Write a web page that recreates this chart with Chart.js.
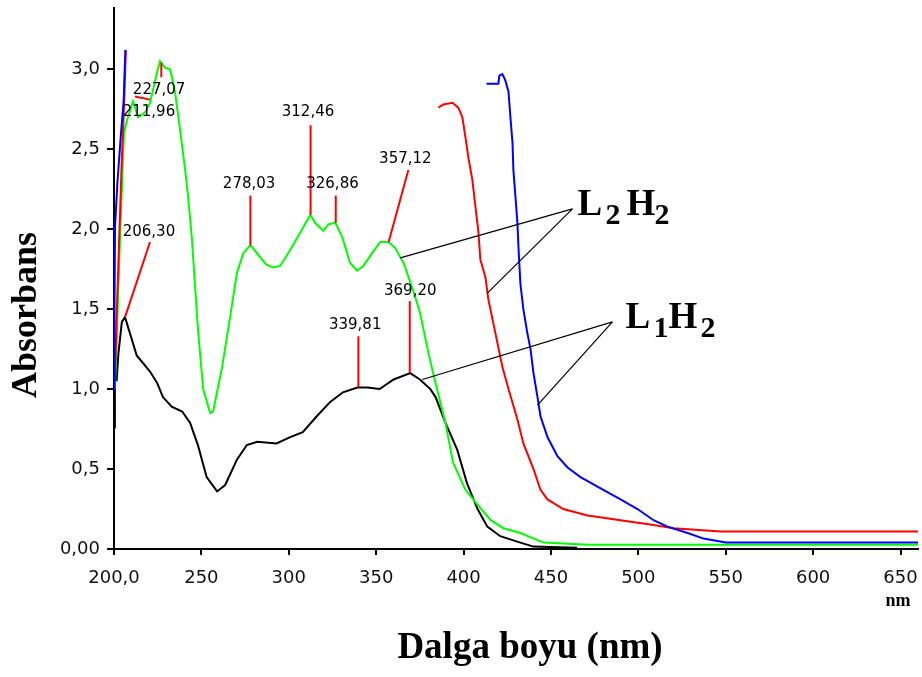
<!DOCTYPE html>
<html>
<head>
<meta charset="utf-8">
<script src="https://cdn.jsdelivr.net/npm/chart.js@4.4.0/dist/chart.umd.min.js"></script>
<style>
  body { margin: 0; background: #fff; }
</style>
</head>
<body>
<canvas id="spectra" width="922" height="677"></canvas>
<script>
// ---- data (nm / absorbance) ----
const blackWl  = [200, 200.5, 201.5, 202.5, 204.5, 206.3, 213, 220.6, 224.6, 228, 233, 239, 243.5, 248, 253, 259, 263.6, 270.4, 276, 282, 293, 300.8, 308, 316, 323.7, 331, 339.2, 345, 352, 360, 369.5, 375, 381, 384, 389.6, 396.4, 402, 408, 413.6, 421, 432.5, 440, 465];
const blackAbs = [0.76, 1.15, 1.05, 1.22, 1.42, 1.45, 1.21, 1.11, 1.04, 0.95, 0.89, 0.86, 0.79, 0.65, 0.45, 0.36, 0.40, 0.56, 0.65, 0.67, 0.66, 0.70, 0.73, 0.83, 0.92, 0.98, 1.01, 1.01, 1.00, 1.06, 1.10, 1.06, 1.00, 0.95, 0.79, 0.62, 0.41, 0.25, 0.14, 0.08, 0.04, 0.015, 0.008];

const greenWl  = [200.5, 201.5, 202.5, 203.4, 204.6, 205.7, 207.4, 210.9, 213.7, 217.8, 220.6, 222.3, 224.6, 226.3, 229.2, 232, 233.2, 235, 237.8, 240.7, 242.4, 244.5, 246, 248, 251, 255, 256.7, 261.9, 266.4, 270.4, 274, 278, 282.5, 287, 291, 295, 300.8, 307.6, 312.3, 315, 319.7, 322.6, 326.6, 330.6, 335, 339, 342.6, 347.7, 352.3, 357, 361, 366, 371, 375, 380, 383, 389.6, 394, 401, 407, 415.5, 422.8, 432.5, 445.7, 471, 660];
const greenAbs = [1.0, 1.3, 1.65, 1.93, 2.29, 2.6, 2.68, 2.8, 2.70, 2.73, 2.79, 2.87, 2.98, 3.05, 3.01, 3.0, 2.95, 2.85, 2.62, 2.37, 2.2, 1.95, 1.7, 1.38, 1.0, 0.85, 0.86, 1.14, 1.45, 1.73, 1.85, 1.90, 1.84, 1.78, 1.76, 1.77, 1.87, 2.0, 2.09, 2.04, 1.99, 2.03, 2.04, 1.95, 1.79, 1.74, 1.77, 1.85, 1.92, 1.92, 1.88, 1.78, 1.62, 1.48, 1.22, 1.08, 0.79, 0.54, 0.37, 0.29, 0.18, 0.13, 0.10, 0.04, 0.027, 0.027];

const redWl  = [200.5, 201.5, 203, 204.5, 205.5, 206.8, 207.3, 385.6, 388.4, 393.6, 397, 399.3, 401, 402.7, 405, 406.8, 408.5, 409.6, 412.5, 414.2, 418.2, 422.2, 425.7, 430.8, 434.2, 440, 444, 448, 457, 471, 489.8, 508.7, 520, 547, 660];
const redAbs = [1.05, 1.45, 1.95, 2.45, 2.7, 3.12, null, 2.76, 2.78, 2.79, 2.76, 2.70, 2.58, 2.45, 2.31, 2.14, 1.98, 1.81, 1.70, 1.56, 1.35, 1.14, 1.00, 0.81, 0.66, 0.50, 0.37, 0.31, 0.25, 0.21, 0.18, 0.15, 0.13, 0.11, 0.11];

const blueWl  = [200, 200.3, 200.6, 202, 204, 205.5, 206.5, 207, 413.1, 419.9, 420.5, 422.2, 423.9, 425.7, 426.8, 428, 428.5, 429.7, 430.8, 431.4, 432.5, 434.2, 436.5, 438.3, 440, 442.3, 444, 448, 453.7, 459.5, 466.9, 476.6, 489.8, 499.5, 508.7, 516.7, 528.2, 537.3, 550, 660];
const blueAbs = [1.0, 1.55, 2.02, 2.3, 2.6, 2.8, 3.12, null, 2.91, 2.91, 2.96, 2.97, 2.93, 2.86, 2.70, 2.54, 2.37, 2.20, 2.04, 1.89, 1.66, 1.50, 1.35, 1.25, 1.10, 0.95, 0.83, 0.70, 0.58, 0.51, 0.45, 0.39, 0.31, 0.25, 0.18, 0.14, 0.10, 0.065, 0.04, 0.04];

const xTicks = [200, 250, 300, 350, 400, 450, 500, 550, 600, 650];
const yTicks = [0, 0.5, 1.0, 1.5, 2.0, 2.5, 3.0];

const peakLabels = ['206,30', '211,96', '227,07', '278,03', '312,46', '326,86', '339,81', '357,12', '369,20'];
const peakWl  = [206.3, 211.96, 227.07, 278.03, 312.46, 326.86, 339.81, 357.12, 369.2];
const peakAbs = [1.45, 2.83, 3.04, 1.90, 2.09, 2.04, 1.01, 1.92, 1.10];

// where each red marker ends and where its label sits (data units)
var markerEnd = [[220.6, 1.92], [220.6, 2.81], [227.07, 2.95], [278.03, 2.21], [312.46, 2.65], [326.86, 2.21], [339.81, 1.33], [368.4, 2.37], [369.2, 1.55]];
var labelAt   = [[220, 1.98], [220, 2.73], [225.8, 2.87], [277.3, 2.28], [311, 2.73], [325, 2.28], [338, 1.40], [366.7, 2.44], [369.5, 1.61]];

// compound pointers: tip, then the curve points they touch
var pointers = [
  { tip: [462.3, 2.127], ends: [[363.8, 1.82], [413.6, 1.60]], main: ['L', 'H'], sub: ['2', '2'], at: [465.2, 2.09], off: [0, 28, 49, 77] },
  { tip: [485.2, 1.42],  ends: [[376.4, 1.06], [442.3, 0.90]], main: ['L', 'H'], sub: ['1', '2'], at: [492.7, 1.38], off: [0, 28, 43, 75] }
];

function pts(wl, ab) {
  return wl.map(function(w, i) { return { x: w, y: ab[i] }; });
}

var extras = {
  id: 'extras',
  afterDatasetsDraw: function(chart) {
    var ctx = chart.ctx, xs = chart.scales.x, ys = chart.scales.y;
    function px(v) { return xs.getPixelForValue(v); }
    function py(v) { return ys.getPixelForValue(v); }
    ctx.save();

    //red peak markers
    ctx.strokeStyle = '#ff0000';
    ctx.lineWidth = 2;
    peakWl.forEach(function(w, i) {
      ctx.beginPath();
      ctx.moveTo(px(w), py(peakAbs[i]));
      ctx.lineTo(px(markerEnd[i][0]), py(markerEnd[i][1]));
      ctx.stroke();
    });
    ctx.fillStyle = '#000';
    ctx.font = '15px "DejaVu Sans"';
    ctx.textAlign = 'center';
    ctx.textBaseline = 'middle';
    peakLabels.forEach(function(t, i) {
      ctx.fillText(t, px(labelAt[i][0]), py(labelAt[i][1]));
    });

    //compound pointers
    ctx.strokeStyle = '#000';
    ctx.lineWidth = 1.2;
    ctx.textAlign = 'left';
    ctx.textBaseline = 'alphabetic';
    pointers.forEach(function(p) {
      p.ends.forEach(function(e) {
        ctx.beginPath();
        ctx.moveTo(px(p.tip[0]), py(p.tip[1]));
        ctx.lineTo(px(e[0]), py(e[1]));
        ctx.stroke();
      });
      var x0 = px(p.at[0]), y0 = py(p.at[1]);
      ctx.font = 'bold 37px "Liberation Serif"';
      ctx.fillText(p.main[0], x0 + p.off[0], y0);
      ctx.fillText(p.main[1], x0 + p.off[2], y0);
      ctx.font = 'bold 30px "Liberation Serif"';
      ctx.fillText(p.sub[0], x0 + p.off[1], y0 + 9);
      ctx.fillText(p.sub[1], x0 + p.off[3], y0 + 9);
    });
    ctx.restore();
  },
  afterDraw: function(chart) {
    var ctx = chart.ctx;
    ctx.save();
    ctx.fillStyle = '#000';
    ctx.textAlign = 'center';
    ctx.textBaseline = 'middle';
    ctx.font = 'bold 37px "Liberation Serif"';
    ctx.fillText('Dalga boyu (nm)', 530, 648);
    ctx.font = 'bold 18px "Liberation Serif"';
    ctx.fillText('nm', 898, 601);
    ctx.translate(27, 315);
    ctx.rotate(-Math.PI / 2);
    ctx.font = 'bold 36px "Liberation Serif"';
    ctx.fillText('Absorbans', 0, 0);
    ctx.restore();
  }
};

function line(wl, ab, color) {
  return {
    data: pts(wl, ab),
    borderColor: color,
    borderWidth: 2,
    pointRadius: 0,
    tension: 0,
    spanGaps: false,
    fill: false
  };
}

var spectraChart = new Chart(document.getElementById('spectra'), {
  type: 'line',
  data: {
    datasets: [
      line(blueWl, blueAbs, '#0000ff'),
      line(redWl, redAbs, '#ff0000'),
      line(greenWl, greenAbs, '#00ff00'),
      line(blackWl, blackAbs, '#000000')
    ]
  },
  options: {
    responsive: false,
    animation: false,
    layout: { padding: { top: 8, right: 4, left: 0, bottom: 0 } },
    plugins: {
      legend: { display: false },
      tooltip: { enabled: false }
    },
    scales: {
      x: {
        type: 'linear',
        min: 200,
        max: 660,
        afterFit: function(s) { s.height = 128; s.paddingLeft = 0; s.paddingRight = 0; },
        afterBuildTicks: function(s) { s.ticks = xTicks.map(function(v) { return { value: v }; }); },
        ticks: {
          autoSkip: false,
          maxRotation: 0,
          padding: 13,
          color: '#111',
          font: { family: 'DejaVu Sans', size: 18 },
          callback: function(v) { return v === 200 ? '200,0' : String(v); }
        },
        grid: { drawOnChartArea: false, tickLength: 6, color: '#000', lineWidth: 2 },
        border: { color: '#000', width: 2 }
      },
      y: {
        min: 0,
        max: 3.383,
        afterFit: function(s) { s.width = 114; s.paddingTop = 0; s.paddingBottom = 0; },
        afterBuildTicks: function(s) { s.ticks = yTicks.map(function(v) { return { value: v }; }); },
        ticks: {
          padding: 7,
          color: '#111',
          font: { family: 'DejaVu Sans', size: 18 },
          callback: function(v) { return v === 0 ? '0,00' : v.toFixed(1).replace('.', ','); }
        },
        grid: { drawOnChartArea: false, tickLength: 7, color: '#000', lineWidth: 2 },
        border: { color: '#000', width: 2 }
      }
    }
  },
  plugins: [extras]
});
</script>
</body>
</html>
